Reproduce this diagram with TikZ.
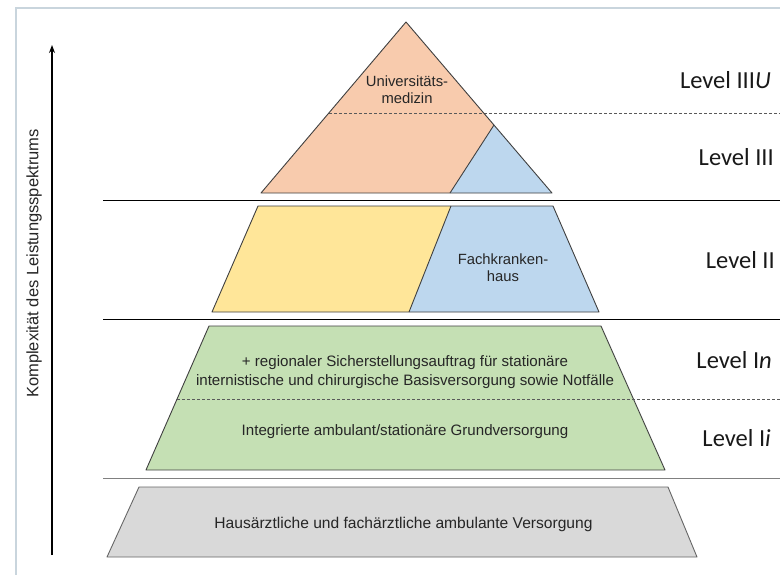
\documentclass[tikz,border=0pt]{standalone}
\usepackage{fontspec}
\setmainfont{Liberation Sans}
\newfontfamily\levfont{Carlito}
\usetikzlibrary{arrows.meta}
\definecolor{peach}{HTML}{F8CBAD}
\definecolor{lblue}{HTML}{BDD7EE}
\definecolor{lyellow}{HTML}{FFE699}
\definecolor{lgreen}{HTML}{C5E0B4}
\definecolor{lgray}{HTML}{D9D9D9}
\definecolor{outl}{HTML}{404040}
\definecolor{framecol}{HTML}{C9D5DD}
\tikzset{
  outlined/.style={draw=outl, line width=0.9pt, line join=round},
  sepline/.style={line width=0.9pt},
  dsh/.style={draw=black!65, line width=0.9pt, dash pattern=on 3pt off 2pt},
  level/.style={font=\levfont\fontsize{24.5}{26}\selectfont, anchor=east, inner sep=0pt, text=black!90},
  txt/.style={font=\fontsize{15.6}{18.3}\selectfont, align=center, inner sep=0pt, text=black!85},
  greentxt/.style={font=\fontsize{15.1}{18.3}\selectfont, align=center, inner sep=0pt, text=black!85},
  smalltxt/.style={font=\fontsize{14.8}{17.3}\selectfont, align=center, inner sep=0pt, text=black!85},
}
\begin{document}
\begin{tikzpicture}[x=1pt,y=-1pt]
\useasboundingbox (0,0) rectangle (780,574);
\fill[white] (0,0) rectangle (780,574);
% frame
\draw[framecol, line width=1.2pt] (16,580) -- (16,8) -- (790,8);
% top triangle
\fill[peach] (406,22) -- (261,193) -- (450,193) -- (494,125) -- cycle;
\fill[lblue] (494,125) -- (450,193) -- (552,193) -- cycle;
\draw[outlined] (450,193) -- (494,125);
\draw[dsh] (329,113) -- (780,113);
\draw[outlined] (406,22) -- (261,193) -- (552,193) -- cycle;
\node[smalltxt] (uni) at (407,90) {Universitäts-\\medizin};
% separators
\draw[sepline] (103,200) -- (780,200);
\draw[sepline] (103,319) -- (780,319);
\draw[sepline, black!50] (103,478) -- (780,478);
% level II
\fill[lyellow] (258,206) -- (451,206) -- (409,312) -- (212,312) -- cycle;
\fill[lblue] (451,206) -- (553,206) -- (599,312) -- (409,312) -- cycle;
\draw[outlined] (451,206) -- (409,312);
\draw[outlined] (258,206) -- (553,206) -- (599,312) -- (212,312) -- cycle;
\node[smalltxt] (fach) at (503,268) {Fachkranken-\\haus};
% level I
\filldraw[outlined, fill=lgreen] (209,326) -- (601,326) -- (665,470) -- (146,470) -- cycle;
\draw[dsh] (177,399) -- (780,399);
\node[greentxt] (reg) at (405,372) {+ regionaler Sicherstellungsauftrag für stationäre\\internistische und chirurgische Basisversorgung sowie Notfälle};
\node[greentxt] (int) at (405,432) {Integrierte ambulant/stationäre Grundversorgung};
% base
\filldraw[outlined, draw=outl!80, fill=lgray] (139,487) -- (668,487) -- (697,557) -- (107,557) -- cycle;
\node[txt] (haus) at (403.5,524) {Hausärztliche und fachärztliche ambulante Versorgung};
% levels
\node[level] (l3u) at (771,80) {Level III\textit{U}};
\node[level] (l3) at (774,157) {Level III};
\node[level] (l2) at (775,260) {Level II};
\node[level] (l1n) at (772,360) {Level I\textit{n}};
\node[level] (l1i) at (771,438) {Level I\textit{i}};
% arrow
\coordinate (abot) at (52,555);
\coordinate (atop) at (52,45);
\draw[line width=1.6pt, -{Stealth[length=8pt,width=6pt]}] (abot) -- (atop);
\node[font=\fontsize{16.5}{18}\selectfont, rotate=90, inner sep=0pt, text=black!85] (axis) at (34,263.5) {Komplexität des Leistungsspektrums};
\end{tikzpicture}
\end{document}
